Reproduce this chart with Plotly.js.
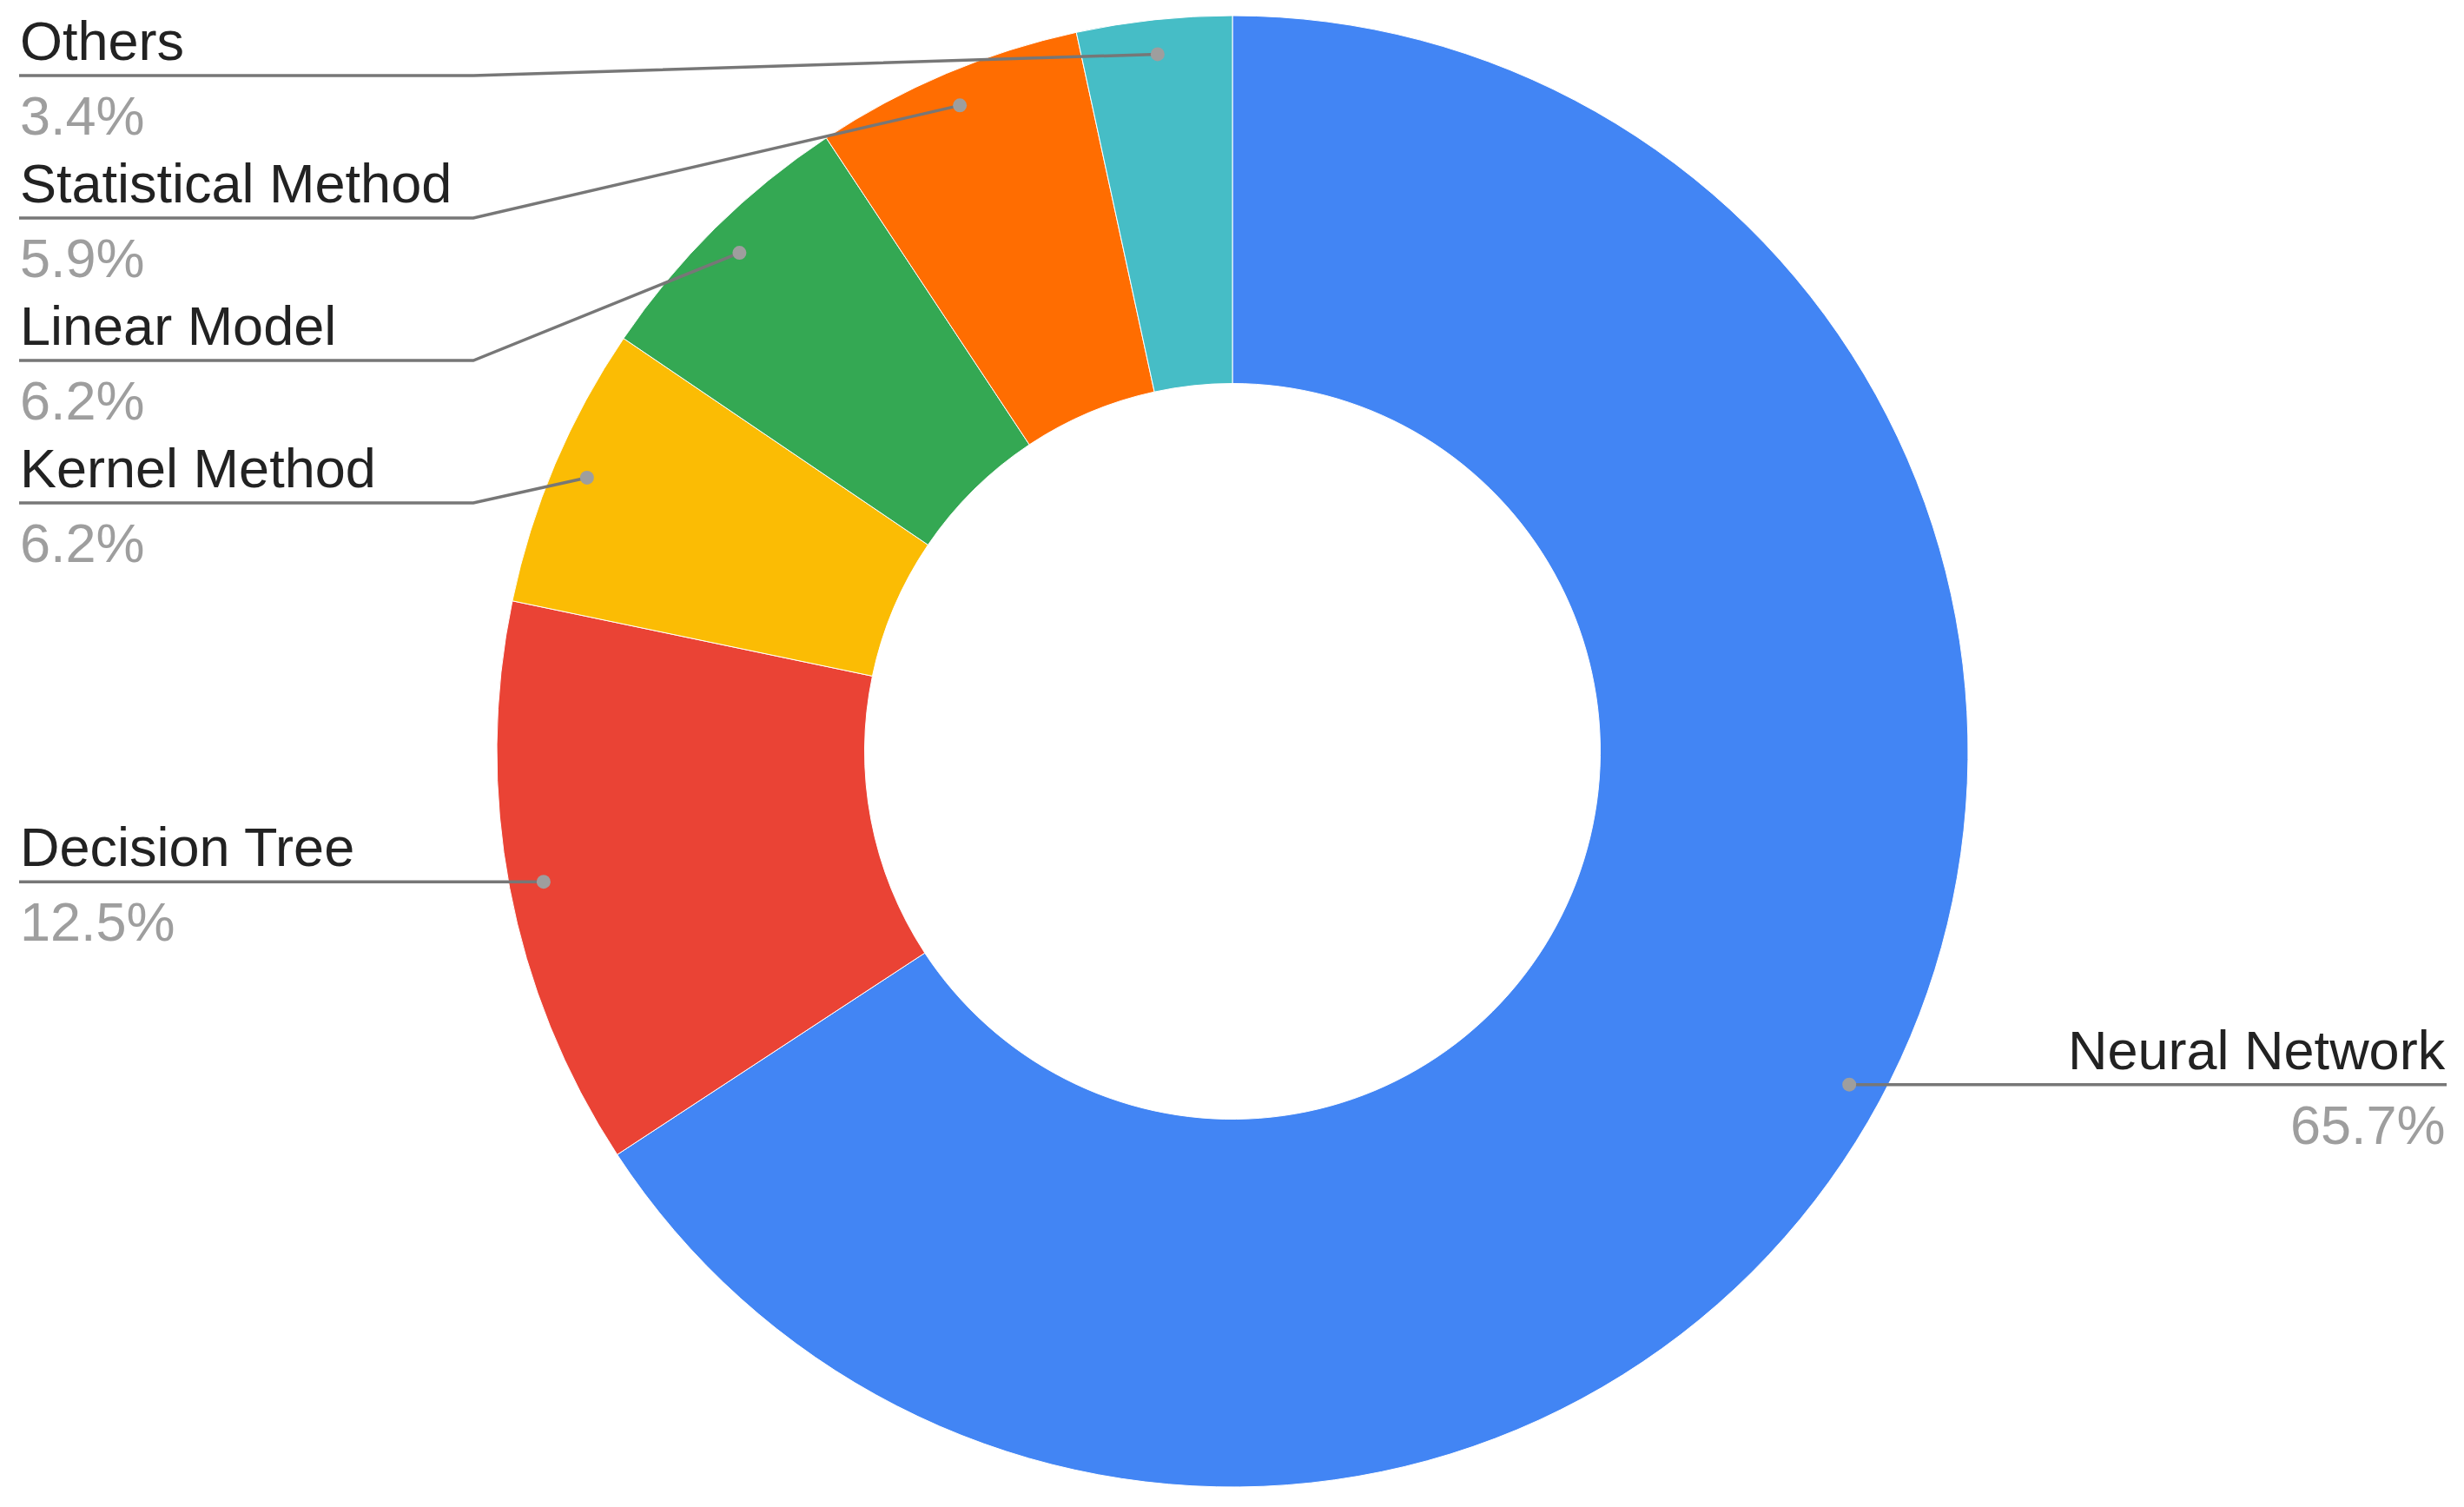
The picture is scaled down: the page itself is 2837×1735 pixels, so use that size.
<!DOCTYPE html>
<html>
<head>
<meta charset="utf-8">
<script src="https://cdn.plot.ly/plotly-3.0.1.min.js"></script>
<style>
  html, body { margin: 0; padding: 0; background: white; }
  #chart { width: 2837px; height: 1735px; }
</style>
</head>
<body>
<div id="chart"></div>
<script>
// data
const categories = ['Neural Network', 'Decision Tree', 'Kernel Method', 'Linear Model', 'Statistical Method', 'Others'];
const shares = [65.7, 12.5, 6.2, 6.2, 5.9, 3.4];
const shareLabels = ['65.7%', '12.5%', '6.2%', '6.2%', '5.9%', '3.4%'];
const sliceColors = ['#4285F4', '#EA4335', '#FBBC04', '#34A853', '#FF6D01', '#46BDC6'];

// page geometry (px)
const W = 2837, H = 1735;
const cx = 1419, cy = 865, R = 847;
const holeFrac = 0.5;
const dotFrac = 0.953;
const labelLeft = 22, labelRight = W - 20;
const elbowInset = 545;
const topLine = 87, lineGap = 164;
const font = '"Liberation Sans", Arial, sans-serif';

const px = x => x / W;
const py = y => 1 - y / H;

// slice mid angles -> dot positions
const total = shares.reduce((a, b) => a + b, 0);
let cum = 0;
const marks = shares.map((v, i) => {
    const a = (cum + v / 2) / total * 2 * Math.PI;
    cum += v;
    const rd = R * dotFrac;
    return { i, x: cx + rd * Math.sin(a), y: cy - rd * Math.cos(a), left: Math.sin(a) < 0 };
});

// push labels apart on each side
function place(list) {
    list.sort((a, b) => a.y - b.y);
    let prev = -Infinity;
    list.forEach(m => {
        m.lineY = Math.max(m.y, prev + lineGap, topLine);
        prev = m.lineY;
    });
}
place(marks.filter(m => m.left));
place(marks.filter(m => !m.left));

const shapes = [];
const annotations = [];
marks.forEach(m => {
    const endX = m.left ? labelLeft : labelRight;
    const elbowX = m.left ? elbowInset : W - elbowInset;
    shapes.push({
        type: 'path', xref: 'paper', yref: 'paper',
        path: `M ${px(m.x)} ${py(m.y)} L ${px(elbowX)} ${py(m.lineY)} L ${px(endX)} ${py(m.lineY)}`,
        line: { color: '#777777', width: 3.5 }
    });
    const dr = 8;
    shapes.push({
        type: 'circle', xref: 'paper', yref: 'paper',
        x0: px(m.x - dr), x1: px(m.x + dr), y0: py(m.y + dr), y1: py(m.y - dr),
        fillcolor: '#9E9E9E', line: { width: 0 }
    });
    const anchor = m.left ? 'left' : 'right';
    annotations.push({
        xref: 'paper', yref: 'paper', x: px(endX), y: py(m.lineY - 40),
        xanchor: anchor, yanchor: 'middle', showarrow: false, borderpad: 0,
        text: categories[m.i], font: { family: font, size: 63, color: '#222222' }
    });
    annotations.push({
        xref: 'paper', yref: 'paper', x: px(endX), y: py(m.lineY + 46),
        xanchor: anchor, yanchor: 'middle', showarrow: false, borderpad: 0,
        text: shareLabels[m.i], font: { family: font, size: 63, color: '#9E9E9E' }
    });
});

Plotly.newPlot('chart', [{
    type: 'pie',
    labels: categories,
    values: shares,
    hole: holeFrac,
    sort: false,
    direction: 'clockwise',
    rotation: 0,
    textinfo: 'none',
    hoverinfo: 'none',
    marker: { colors: sliceColors, line: { color: 'white', width: 1 } },
    domain: { x: [px(cx - R), px(cx + R)], y: [py(cy + R), py(cy - R)] }
}], {
    width: W, height: H,
    margin: { l: 0, r: 0, t: 0, b: 0 },
    paper_bgcolor: 'white',
    showlegend: false,
    shapes: shapes,
    annotations: annotations
}, { displayModeBar: false, staticPlot: true });
</script>
</body>
</html>
